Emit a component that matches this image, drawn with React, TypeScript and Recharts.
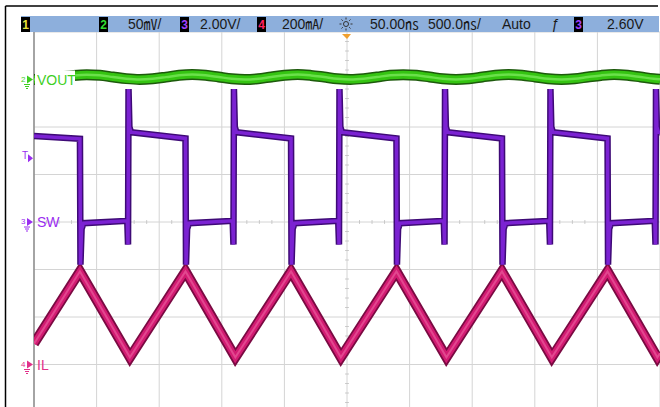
import React from 'react';
import { ComposedChart, Line, XAxis, YAxis, CartesianGrid, ReferenceLine, ReferenceDot } from 'recharts';

// Time axis in ns: 500 ns/div, 10 divisions
const timeTicks = [0, 500, 1000, 1500, 2000, 2500, 3000, 3500, 4000, 4500, 5000];
// SW channel: 2.00 V/div, ground at screen centre
const swTicks = [-8, -6, -4, -2, 0, 2, 4, 6, 8];

// Channel 2 VOUT ripple (mV, AC around its marker), 50 mV/div
const voutData = [
  { t: 0, v: 0.1 }, { t: 105, v: 0.8 }, { t: 211, v: 2.6 }, { t: 316, v: 4.3 }, { t: 421, v: 5.1 },
  { t: 527, v: 4.4 }, { t: 632, v: 2.6 }, { t: 737, v: 0.9 }, { t: 843, v: 0.1 }, { t: 948, v: 0.8 },
  { t: 1054, v: 2.5 }, { t: 1159, v: 4.4 }, { t: 1264, v: 5.2 }, { t: 1370, v: 4.4 }, { t: 1475, v: 2.6 },
  { t: 1580, v: 0.8 }, { t: 1685, v: 0.0 }, { t: 1790, v: 0.8 }, { t: 1896, v: 2.7 }, { t: 2001, v: 4.4 },
  { t: 2106, v: 5.2 }, { t: 2212, v: 4.3 }, { t: 2317, v: 2.6 }, { t: 2422, v: 0.8 }, { t: 2528, v: 0.1 },
  { t: 2633, v: 0.9 }, { t: 2739, v: 2.6 }, { t: 2844, v: 4.4 }, { t: 2949, v: 5.1 }, { t: 3055, v: 4.4 },
  { t: 3160, v: 2.6 }, { t: 3265, v: 0.8 }, { t: 3370, v: 0.0 }, { t: 3475, v: 0.8 }, { t: 3581, v: 2.6 },
  { t: 3686, v: 4.4 }, { t: 3791, v: 5.2 }, { t: 3897, v: 4.4 }, { t: 4002, v: 2.6 }, { t: 4107, v: 0.8 },
  { t: 4213, v: 0.1 }, { t: 4318, v: 0.8 }, { t: 4424, v: 2.6 }, { t: 4529, v: 4.3 }, { t: 4634, v: 5.2 },
  { t: 4740, v: 4.4 }, { t: 4845, v: 2.6 }, { t: 4950, v: 0.8 }, { t: 5000, v: 0.3 },
];

// Channel 3 SW node (V), 2.00 V/div
const swData = [
  { t: 0, v: 3.62 },
  { t: 367, v: 3.5 }, { t: 371, v: -1.8 }, { t: 380, v: -0.3 }, { t: 395, v: -0.05 }, { t: 745, v: 0.05 },
  { t: 751, v: -0.95 }, { t: 755, v: 5.6 }, { t: 762, v: 4.0 }, { t: 775, v: 3.78 },
  { t: 1210, v: 3.52 }, { t: 1214, v: -1.8 }, { t: 1223, v: -0.3 }, { t: 1238, v: -0.05 }, { t: 1587, v: 0.05 },
  { t: 1593, v: -0.95 }, { t: 1597, v: 5.6 }, { t: 1604, v: 4.0 }, { t: 1617, v: 3.78 },
  { t: 2053, v: 3.52 }, { t: 2057, v: -1.8 }, { t: 2066, v: -0.3 }, { t: 2081, v: -0.05 }, { t: 2430, v: 0.05 },
  { t: 2436, v: -0.95 }, { t: 2440, v: 5.6 }, { t: 2447, v: 4.0 }, { t: 2460, v: 3.78 },
  { t: 2895, v: 3.52 }, { t: 2899, v: -1.8 }, { t: 2908, v: -0.3 }, { t: 2923, v: -0.05 }, { t: 3273, v: 0.05 },
  { t: 3279, v: -0.95 }, { t: 3283, v: 5.6 }, { t: 3290, v: 4.0 }, { t: 3303, v: 3.78 },
  { t: 3738, v: 3.52 }, { t: 3742, v: -1.8 }, { t: 3751, v: -0.3 }, { t: 3766, v: -0.05 }, { t: 4115, v: 0.05 },
  { t: 4121, v: -0.95 }, { t: 4125, v: 5.6 }, { t: 4132, v: 4.0 }, { t: 4145, v: 3.78 },
  { t: 4581, v: 3.52 }, { t: 4585, v: -1.8 }, { t: 4594, v: -0.3 }, { t: 4609, v: -0.05 }, { t: 4958, v: 0.05 },
  { t: 4964, v: -0.95 }, { t: 4968, v: 5.6 }, { t: 4975, v: 4.0 }, { t: 4988, v: 3.78 }, { t: 5000, v: 3.77 },
];

// Channel 4 inductor current IL (mA), 200 mA/div
const ilData = [
  { t: 0, v: 88 }, { t: 367, v: 392 }, { t: 766, v: 30 }, { t: 1210, v: 392 }, { t: 1608, v: 30 },
  { t: 2053, v: 392 }, { t: 2451, v: 30 }, { t: 2895, v: 392 }, { t: 3294, v: 30 }, { t: 3738, v: 392 },
  { t: 4136, v: 30 }, { t: 4581, v: 392 }, { t: 4979, v: 30 }, { t: 5000, v: 47 },
];

const triggerLevel = 2.6; // V on channel 3
const triggerTime = 2500;

const minorTimeTicks = Array.from({ length: 49 }, (_, i) => (i + 1) * 100).filter((t) => t % 500 !== 0);
const minorVoltTicks = [-7.6, -7.2, -6.8, -6.4, -5.6, -5.2, -4.8, -4.4, -3.6, -3.2, -2.8, -2.4, -1.6, -1.2, -0.8, -0.4,
  0.4, 0.8, 1.2, 1.6, 2.4, 2.8, 3.2, 3.6, 4.4, 4.8, 5.2, 5.6, 6.4, 6.8, 7.2, 7.6];

const FONT = '"Liberation Sans", Arial, "Noto Sans CJK JP", sans-serif';

const makeMarker = (num: string, label: string, color: string, bg: boolean) => (props: any) => {
  const { cx, cy } = props;
  return (
    <g>
      {bg && <rect x={cx + 1} y={cy - 9} width={40} height={17} fill="#ffffff" />}
      <text x={cx - 13} y={cy + 2} fontSize={8} fontFamily={FONT} fill={color}>{num}</text>
      <polygon points={`${cx - 7},${cy - 4} ${cx - 1},${cy} ${cx - 7},${cy + 4}`} fill={color} />
      <line x1={cx - 10} y1={cy + 5} x2={cx - 4} y2={cy + 5} stroke={color} strokeWidth={1} />
      <line x1={cx - 9} y1={cy + 7} x2={cx - 5} y2={cy + 7} stroke={color} strokeWidth={1} />
      <line x1={cx - 8} y1={cy + 9} x2={cx - 6} y2={cy + 9} stroke={color} strokeWidth={1} />
      <text x={cx + 3} y={cy + 5} fontSize={14} fontFamily={FONT} fill={color}>{label}</text>
    </g>
  );
};

const TriggerLevelMarker = (props: any) => {
  const { cx, cy } = props;
  return (
    <g>
      <text x={cx - 12} y={cy - 1} fontSize={10} fontFamily={FONT} fill="#9a2cf0">T</text>
      <polygon points={`${cx - 6},${cy - 6} ${cx - 1},${cy - 2} ${cx - 6},${cy + 2}`} fill="#9a2cf0" />
    </g>
  );
};

const TriggerTimeMarker = (props: any) => {
  const { cx, cy } = props;
  return (
    <polygon points={`${cx - 5},${cy + 2} ${cx + 4},${cy + 2} ${cx},${cy + 7}`} fill="#f0a030" />
  );
};

const ChBox = ({ x, n, color }: { x: number; n: string; color: string }) => (
  <g>
    <rect x={x} y={17} width={9} height={15} fill="#000" />
    <text x={x + 4.5} y={29} fontSize={12} fontWeight="bold" fontFamily={FONT} fill={color} textAnchor="middle">{n}</text>
  </g>
);

const TopBar = () => (
  <svg width={660} height={407} style={{ position: 'absolute', left: 0, top: 0, pointerEvents: 'none' }}>
    <line x1={5.5} y1={6} x2={658} y2={6} stroke="#000" strokeWidth={1.5} />
    <line x1={5.5} y1={6} x2={5.5} y2={407} stroke="#000" strokeWidth={1.5} />
    <rect x={21} y={16} width={638} height={16} fill="#8dafdc" />
    <ChBox x={21} n="1" color="#e6e23a" />
    <ChBox x={99} n="2" color="#33dd33" />
    <g fontSize={14} fontFamily={FONT} fill="#1a1a1a">
      <text x={128} y={29}>50㎷/</text>
      <text x={200} y={29}>2.00V/</text>
      <text x={282} y={29}>200㎃/</text>
      <text x={370} y={29}>50.00㎱</text>
      <text x={428} y={29}>500.0㎱/</text>
      <text x={502} y={29}>Auto</text>
      <text x={551} y={29} fontStyle="italic">ƒ</text>
      <text x={607} y={29}>2.60V</text>
    </g>
    <ChBox x={180} n="3" color="#a040ff" />
    <ChBox x={257} n="4" color="#ff2060" />
    <ChBox x={574} n="3" color="#a040ff" />
    <g stroke="#333" strokeWidth={1}>
      <circle cx={346} cy={24} r={2.5} fill="none" />
      <line x1={346} y1={17.5} x2={346} y2={19.5} />
      <line x1={346} y1={28.5} x2={346} y2={30.5} />
      <line x1={339.5} y1={24} x2={341.5} y2={24} />
      <line x1={350.5} y1={24} x2={352.5} y2={24} />
      <line x1={341.5} y1={19.5} x2={342.8} y2={20.8} />
      <line x1={349.2} y1={27.2} x2={350.5} y2={28.5} />
      <line x1={350.5} y1={19.5} x2={349.2} y2={20.8} />
      <line x1={342.8} y1={27.2} x2={341.5} y2={28.5} />
    </g>
  </svg>
);

export default function App() {
  return (
    <div style={{ position: 'absolute', left: 0, top: 0, width: 660, height: 407, overflow: 'hidden', background: '#fff' }}>
      <ComposedChart width={660} height={412} margin={{ top: 32, left: 34, right: 0, bottom: 0 }}>
        <XAxis type="number" dataKey="t" domain={[0, 5000]} ticks={timeTicks} hide allowDataOverflow />
        <YAxis yAxisId="sw" type="number" domain={[-8, 8]} ticks={swTicks} hide allowDataOverflow />
        <YAxis yAxisId="vout" type="number" domain={[-350, 50]} hide allowDataOverflow />
        <YAxis yAxisId="il" type="number" domain={[-200, 1400]} hide allowDataOverflow />
        <CartesianGrid yAxisId="sw" stroke="#d4d4d4" strokeWidth={1} />
        <ReferenceLine yAxisId="sw" x={0} stroke="#8c8c8c" strokeWidth={1.5} />
        {minorTimeTicks.map((t) => (
          <ReferenceLine key={'mt' + t} yAxisId="sw" segment={[{ x: t, y: -0.08 }, { x: t, y: 0.08 }]} stroke="#c8c8c8" />
        ))}
        {minorVoltTicks.map((v) => (
          <ReferenceLine key={'mv' + v} yAxisId="sw" segment={[{ x: 2485, y: v }, { x: 2515, y: v }]} stroke="#c8c8c8" />
        ))}

        <Line yAxisId="il" data={ilData} dataKey="v" type="linear" stroke="#7a0a42" strokeWidth={10} dot={false} isAnimationActive={false} strokeLinejoin="miter" />
        <Line yAxisId="il" data={ilData} dataKey="v" type="linear" stroke="#d21b72" strokeWidth={6.5} dot={false} isAnimationActive={false} strokeLinejoin="miter" />
        <Line yAxisId="il" data={ilData} dataKey="v" type="linear" stroke="#e2478f" strokeWidth={2} dot={false} isAnimationActive={false} strokeLinejoin="miter" />

        <Line yAxisId="sw" data={swData} dataKey="v" type="linear" stroke="#3e0a76" strokeWidth={6.5} dot={false} isAnimationActive={false} />
        <Line yAxisId="sw" data={swData} dataKey="v" type="linear" stroke="#7b22d2" strokeWidth={3.5} dot={false} isAnimationActive={false} />

        <Line yAxisId="vout" data={voutData} dataKey="v" type="monotone" stroke="#1d5a0c" strokeWidth={11} dot={false} isAnimationActive={false} />
        <Line yAxisId="vout" data={voutData} dataKey="v" type="monotone" stroke="#35c412" strokeWidth={8} dot={false} isAnimationActive={false} />
        <Line yAxisId="vout" data={voutData} dataKey="v" type="monotone" stroke="#6ae04a" strokeWidth={2.5} dot={false} isAnimationActive={false} />

        <ReferenceDot yAxisId="vout" x={0} y={0} r={0} ifOverflow="visible" shape={makeMarker('2', 'VOUT', '#3fcf1f', true)} />
        <ReferenceDot yAxisId="sw" x={0} y={0} r={0} ifOverflow="visible" shape={makeMarker('3', 'SW', '#9a2cf0', false)} />
        <ReferenceDot yAxisId="il" x={0} y={0} r={0} ifOverflow="visible" shape={makeMarker('4', 'IL', '#e2308a', false)} />
        <ReferenceDot yAxisId="sw" x={0} y={triggerLevel} r={0} ifOverflow="visible" shape={TriggerLevelMarker} />
        <ReferenceDot yAxisId="sw" x={triggerTime} y={8} r={0} ifOverflow="visible" shape={TriggerTimeMarker} />
      </ComposedChart>
      <TopBar />
    </div>
  );
}
